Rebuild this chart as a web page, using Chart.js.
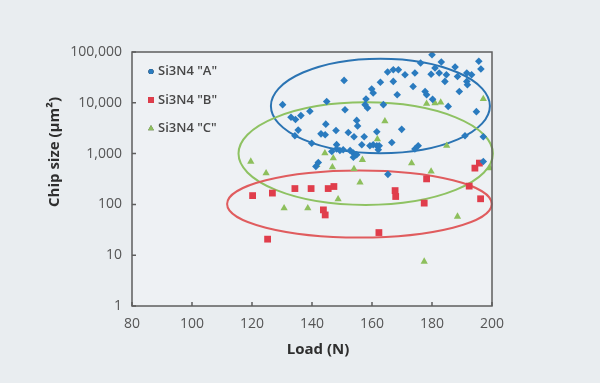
<!DOCTYPE html>
<html>
<head>
<meta charset="utf-8">
<script src="https://cdn.jsdelivr.net/npm/chart.js@4/dist/chart.umd.min.js"></script>
<style>
html,body{margin:0;padding:0;background:#e9edf0;}
canvas{display:block;}
</style>
</head>
<body>
<canvas id="c" width="600" height="383"></canvas>
<script>
// ---- data ----
const seriesNames = ['Si3N4 "A"', 'Si3N4 "B"', 'Si3N4 "C"'];

const aLoad = [130.2,144.9,150.7,133.0,134.5,136.3,139.3,135.4,134.3,139.9,143.0,144.4,144.6,148.0,151.0,152.1,148.2,154.9,155.2,154.0,157.4,161.6,158.0,157.7,158.5,159.9,160.4,162.8,163.8,165.2,167.1,168.8,167.1,168.4,169.9,166.6,171.0,173.7,174.3,176.2,177.7,178.2,180.2,180.0,179.7,181.0,183.1,182.4,184.8,184.3,185.4,187.7,188.5,189.1,191.6,193.2,191.6,191.8,195.6,196.3,194.8,191.0,197.1,174.3,175.4,156.6,159.3,160.4,161.6,162.1,162.4,148.2,149.3,150.4,152.7,153.8,154.9,146.6,153.8,142.1,141.3,165.3,197.1];
const aChip = [9200,10600,27600,5200,4700,5600,6800,2900,2250,1600,2450,2350,3800,2850,7300,2600,1500,4500,3500,2150,2150,2700,11900,9200,7900,18700,15600,25400,9200,40400,44800,44800,26400,14400,3000,1650,35700,21000,38600,60700,16700,14400,11700,88500,36500,48400,63500,38600,35700,26400,8500,50600,33000,16700,38600,35700,26400,22700,65900,46200,6700,2250,2150,1230,1430,1490,1430,1490,1430,1190,1430,1230,1150,1190,1150,1020,950,1100,850,670,560,390,700];

const bLoad = [120.2,126.8,134.3,139.7,145.4,147.3,143.8,144.4,125.2,162.3,167.7,167.9,178.2,177.4,192.4,196.2,194.3,195.8];
const bChip = [149,167,205,205,205,225,78,62,20.7,27.9,187,143,318,106,229,129,518,650];

const cLoad = [119.6,124.7,130.7,138.6,144.3,141.6,147.1,146.8,148.7,154.0,156.0,156.8,161.8,164.3,173.2,179.7,184.9,188.5,177.4,178.2,181.0,182.9,197.1,199.3];
const cChip = [698,413,84,84,1020,601,815,542,127,501,270,755,1930,4330,650,444,1430,57.7,7.5,9580,9890,10200,11900,518];

const xTicks = [80,100,120,140,160,180,200];
const yTicks = [1,10,100,1000,10000,100000];

// ellipses: centre load, centre chip size, half-width (N), half-height (decades)
const ellLoad   = [162.8, 157.9, 155.8];
const ellChip   = [8670, 1000, 101.6];
const ellRx     = [36.5, 42.4, 44.1];
const ellRyDec  = [0.93, 1.01, 0.66];

const xTitle = 'Load (N)';
const yTitle = 'Chip size (\u00b5m\u00b2)';

// ---- styles ----
const colors = ['#2a7bbf', '#e03d4b', '#8dbf5c'];
const ellColors = ['#2b74b3', '#8ec262', '#e05c5e'];
const styles = ['rectRot', 'rect', 'triangle'];
const radii = [3.8, 4.8, 4.2];
const FONT = '"Open Sans", "DejaVu Sans", sans-serif';

const zip = (xs, ys) => xs.map((x, i) => ({x: x, y: ys[i]}));
const dataSets = [zip(aLoad, aChip), zip(bLoad, bChip), zip(cLoad, cChip)];

const decor = {
  id: 'decor',
  beforeDraw(chart) {
    const {ctx, chartArea: a} = chart;
    ctx.save();
    ctx.fillStyle = '#e9edf0';
    ctx.fillRect(0, 0, chart.width, chart.height);
    ctx.fillStyle = '#eef1f4';
    ctx.fillRect(a.left, a.top, a.right - a.left, a.bottom - a.top);
    ctx.restore();
  },
  beforeDatasetsDraw(chart) {
    const {ctx, scales: {x, y}} = chart;
    ctx.save();
    ctx.lineWidth = 2;
    for (let i = 0; i < ellLoad.length; i++) {
      const cx = x.getPixelForValue(ellLoad[i]);
      const cy = y.getPixelForValue(ellChip[i]);
      const rx = x.getPixelForValue(ellLoad[i] + ellRx[i]) - cx;
      const ry = cy - y.getPixelForValue(ellChip[i] * Math.pow(10, ellRyDec[i]));
      ctx.strokeStyle = ellColors[i];
      ctx.beginPath();
      ctx.ellipse(cx, cy, rx, ry, 0, 0, Math.PI * 2);
      ctx.stroke();
    }
    ctx.restore();
  },
  afterDraw(chart) {
    const {ctx, chartArea: a, scales: {x, y}} = chart;
    ctx.save();
    // frame
    ctx.strokeStyle = '#5e5e5e';
    ctx.lineWidth = 1.5;
    ctx.strokeRect(a.left, a.top, a.right - a.left, a.bottom - a.top);
    // inner ticks
    ctx.lineWidth = 1.5;
    ctx.beginPath();
    xTicks.forEach(v => {
      const px = x.getPixelForValue(v);
      ctx.moveTo(px, a.bottom); ctx.lineTo(px, a.bottom - 4);
    });
    yTicks.forEach(v => {
      const py = y.getPixelForValue(v);
      ctx.moveTo(a.left, py); ctx.lineTo(a.left + 4, py);
    });
    ctx.stroke();
    // axis titles
    ctx.fillStyle = '#2e2e2e';
    ctx.font = 'bold 15px ' + FONT;
    ctx.textAlign = 'center';
    ctx.textBaseline = 'middle';
    ctx.fillText(xTitle, 318, 350);
    ctx.translate(55, 152);
    ctx.rotate(-Math.PI / 2);
    ctx.fillText(yTitle, 0, 0);
    ctx.restore();
    // legend
    ctx.save();
    ctx.font = '600 13px ' + FONT;
    ctx.textAlign = 'left';
    ctx.textBaseline = 'middle';
    const rows = [71.5, 100, 128.5];
    const lstyles = ['circle', 'rect', 'triangle'];
    const lrad = [2.6, 4.2, 3.4];
    seriesNames.forEach((n, i) => {
      Chart.helpers.drawPoint(ctx, {pointStyle: lstyles[i], radius: lrad[i], borderWidth: 0}, 151, rows[i]);
      ctx.fillStyle = colors[i];
      ctx.fill();
      ctx.fillStyle = '#474747';
      ctx.fillText(n, 158, rows[i]);
    });
    ctx.restore();
  }
};

new Chart(document.getElementById('c'), {
  type: 'scatter',
  data: {
    datasets: dataSets.map((d, i) => ({
      label: seriesNames[i],
      data: d,
      pointStyle: styles[i],
      pointRadius: radii[i],
      backgroundColor: colors[i],
      borderColor: colors[i],
      borderWidth: 0
    }))
  },
  options: {
    responsive: false,
    animation: false,
    layout: {padding: {left: 0, right: 108, top: 52, bottom: 0}},
    plugins: {legend: {display: false}, tooltip: {enabled: false}},
    scales: {
      x: {
        type: 'linear', min: 80, max: 200,
        afterBuildTicks: s => { s.ticks = xTicks.map(v => ({value: v})); },
        afterFit: s => { s.height = 77; },
        grid: {display: false, drawTicks: false},
        border: {display: false},
        ticks: {color: '#555', padding: 10, font: {family: FONT, size: 14}, maxRotation: 0, autoSkip: false}
      },
      y: {
        type: 'logarithmic', min: 1, max: 100000,
        afterBuildTicks: s => { s.ticks = yTicks.map(v => ({value: v})); },
        afterFit: s => { s.width = 132; },
        grid: {display: false, drawTicks: false},
        border: {display: false},
        ticks: {color: '#555', padding: 10, font: {family: FONT, size: 14}, autoSkip: false,
          callback: v => Number(v).toLocaleString('en-US')}
      }
    }
  },
  plugins: [decor]
});
</script>
</body>
</html>
